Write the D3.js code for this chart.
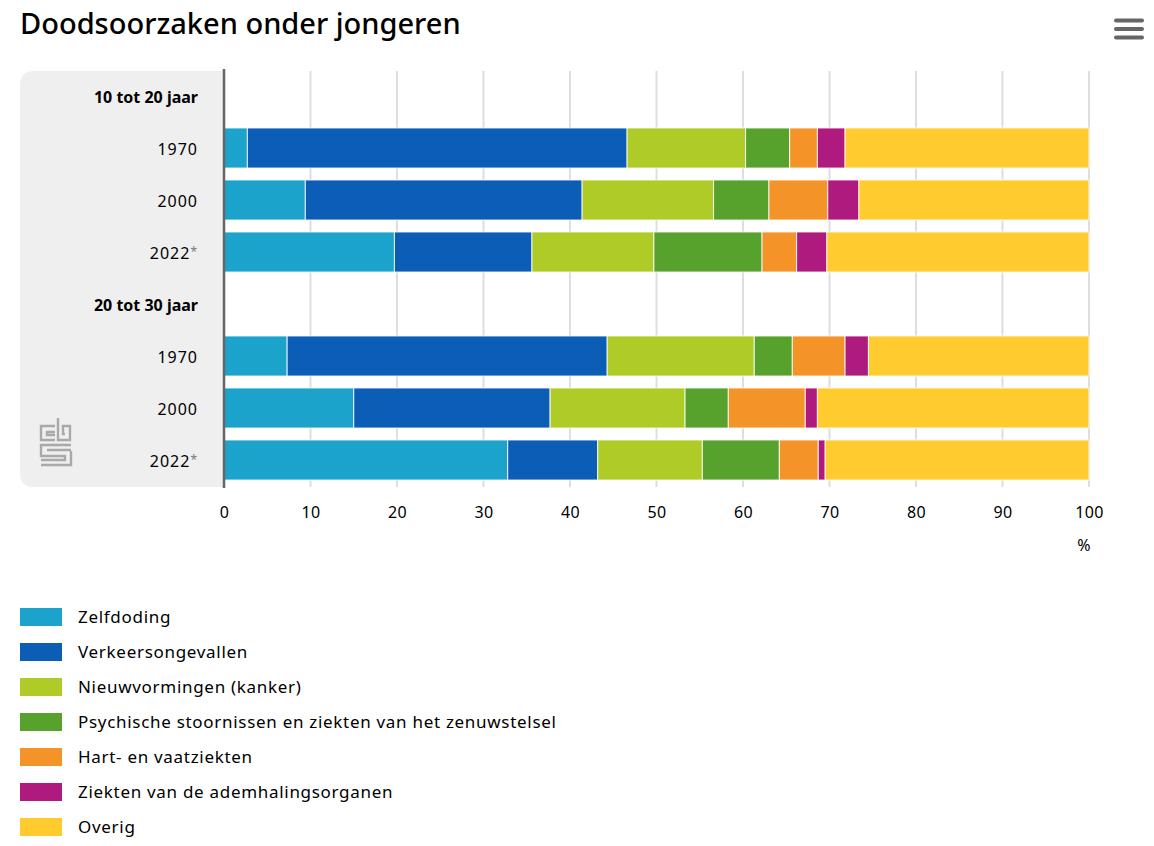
<!DOCTYPE html>
<html>
<head>
<meta charset="utf-8">
<script src="https://cdn.jsdelivr.net/npm/d3@7"></script>
<style>
	html, body { margin: 0; padding: 0; background: #fff; }
	svg { display: block; }
	text { font-family: "Noto Sans", sans-serif; fill: #000; }
</style>
</head>
<body>
<svg id="chart" width="1154" height="846"></svg>
<script>
var title = 'Doodsoorzaken onder jongeren';

var rows = ['10 tot 20 jaar', '1970a', '2000a', '2022*a', '20 tot 30 jaar', '1970b', '2000b', '2022*b'];
var rowLabels = ['10 tot 20 jaar', '1970', '2000', '2022*', '20 tot 30 jaar', '1970', '2000', '2022*'];
var causes = [
	'Zelfdoding',
	'Verkeersongevallen',
	'Nieuwvormingen (kanker)',
	'Psychische stoornissen en ziekten van het zenuwstelsel',
	'Hart- en vaatziekten',
	'Ziekten van de ademhalingsorganen',
	'Overig'
];
var colors = ['#1ba3cb', '#0c5db5', '#afcb27', '#57a22c', '#f49327', '#af1a7e', '#ffcb2f'];

// percentages per cause, same order as rows (group rows are empty)
var zelfdoding = [0, 2.7, 9.4, 19.7, 0, 7.3, 15.0, 32.8];
var verkeer = [0, 43.9, 32.0, 15.9, 0, 37.0, 22.7, 10.4];
var kanker = [0, 13.7, 15.2, 14.1, 0, 17.0, 15.6, 12.1];
var psychisch = [0, 5.1, 6.4, 12.5, 0, 4.4, 5.0, 8.9];
var hartvaat = [0, 3.2, 6.8, 4.0, 0, 6.1, 8.9, 4.5];
var adem = [0, 3.2, 3.6, 3.5, 0, 2.7, 1.4, 0.8];
var overig = [0, 28.2, 26.6, 30.3, 0, 25.5, 31.4, 30.5];

var xTicks = [0, 10, 20, 30, 40, 50, 60, 70, 80, 90, 100];

var series = [zelfdoding, verkeer, kanker, psychisch, hartvaat, adem, overig];
var table = rows.map(function(r, i) {
	var row = {row: r};
	causes.forEach(function(c, j) { row[c] = series[j][i]; });
	return row;
});

var svg = d3.select('#chart');
var plot = {left: 224, right: 1089, top: 71, bottom: 487};

var x = d3.scaleLinear().domain([0, 100]).range([plot.left, plot.right]);
var y = d3.scaleBand().domain(rows).range([plot.top, plot.bottom]).paddingInner(0.23).paddingOuter(0.115);

svg.append('text')
	.attr('x', 20).attr('y', 34)
	.attr('font-size', 29).attr('font-weight', 500)
	.text(title);

// hamburger menu
svg.append('g').selectAll('line').data([0, 1, 2]).join('line')
	.attr('x1', 1116).attr('x2', 1142)
	.attr('y1', function(d) { return 20.5 + d * 8.5; })
	.attr('y2', function(d) { return 20.5 + d * 8.5; })
	.attr('stroke', '#666').attr('stroke-width', 4).attr('stroke-linecap', 'round');

// grey panel behind the row labels
svg.append('path')
	.attr('d', 'M224,71H34Q20,71 20,85V473Q20,487 34,487H224Z')
	.attr('fill', '#efefef');

// grid
svg.append('g').selectAll('line').data(xTicks.slice(1)).join('line')
	.attr('x1', x).attr('x2', x)
	.attr('y1', plot.top).attr('y2', plot.bottom)
	.attr('stroke', '#dedede').attr('stroke-width', 2);

// bars
var stack = d3.stack().keys(causes)(table);
svg.append('g').attr('transform', 'translate(0,-1)')
	.selectAll('g').data(stack).join('g')
	.attr('fill', function(d, i) { return colors[i]; })
	.selectAll('rect')
	.data(function(d) { return d.filter(function(p) { return p[1] > p[0]; }); })
	.join('rect')
	.attr('x', function(d) { return x(d[0]); })
	.attr('width', function(d) { return x(d[1]) - x(d[0]); })
	.attr('y', function(d) { return y(d.data.row); })
	.attr('height', y.bandwidth())
	.attr('stroke', '#fff').attr('stroke-opacity', 0.85).attr('stroke-width', 1);

// row labels
var yAxis = svg.append('g')
	.attr('transform', 'translate(' + plot.left + ',1)')
	.call(d3.axisLeft(y).tickSize(0).tickPadding(26).tickFormat(function(d, i) { return rowLabels[i]; }));
yAxis.select('.domain').remove();
yAxis.selectAll('text')
	.attr('font-size', 16)
	.attr('font-weight', function(d, i) { return rows[i].indexOf('jaar') > 0 ? 700 : 400; })
	.attr('letter-spacing', function(d, i) { return rows[i].indexOf('jaar') > 0 ? 0 : 1; })
	.each(function(d, i) {
		// the asterisk of 2022* is small, raised and grey
		if(rowLabels[i].slice(-1) != '*') return;
		var label = d3.select(this).text(rowLabels[i].slice(0, -1));
		label.append('tspan')
			.attr('font-size', 12).attr('dy', -3)
			.style('fill', '#777')
			.text('*');
	});

// the axis line sits over the bars
svg.append('line')
	.attr('x1', plot.left).attr('x2', plot.left)
	.attr('y1', plot.top - 2).attr('y2', plot.bottom + 1)
	.attr('stroke', '#666').attr('stroke-width', 2.5);

// x axis
var xAxis = svg.append('g')
	.attr('transform', 'translate(0,' + plot.bottom + ')')
	.call(d3.axisBottom(x).tickValues(xTicks).tickSize(0).tickPadding(20));
xAxis.select('.domain').remove();
xAxis.selectAll('text').attr('font-size', 16).attr('letter-spacing', 0.3);

svg.append('text')
	.attr('x', 1084).attr('y', 551)
	.attr('text-anchor', 'middle').attr('font-size', 16)
	.text('%');

// cbs logo
svg.append('path')
	.attr('fill', 'none').attr('stroke', '#a9a9a9').attr('stroke-width', 2.4)
	.attr('d', 'M55,426H41V440H55 M55,432H47V435H55'
		+ ' M58,418V440H70V426H63V434H65'
		+ ' M71,445H41V456H65V460H41 M71,450H47 M71,451V465H41');

// legend
var legend = svg.append('g').selectAll('g').data(causes).join('g')
	.attr('transform', function(d, i) { return 'translate(20,' + (608 + i * 35) + ')'; });
legend.append('rect')
	.attr('width', 42).attr('height', 18)
	.attr('fill', function(d, i) { return colors[i]; });
legend.append('text')
	.attr('x', 58).attr('y', 15)
	.attr('font-size', 17).attr('letter-spacing', 0.7)
	.text(function(d) { return d; });
</script>
</body>
</html>
